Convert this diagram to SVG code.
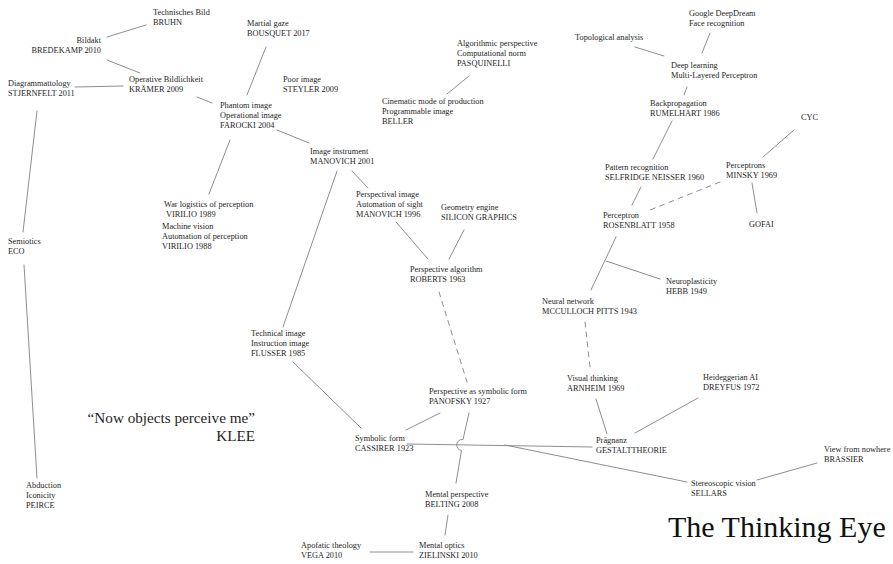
<svg xmlns="http://www.w3.org/2000/svg" width="893" height="564" viewBox="0 0 893 564">
  <style>
    .lbl { font-family: "Liberation Serif", "Times New Roman", serif; font-size: 8.3px; fill: #1e1e1e; }
    .end { text-anchor: end; }
    .quote { font-family: "Liberation Serif", "Times New Roman", serif; font-size: 15.2px; fill: #1e1e1e; text-anchor: end; }
    .title { font-family: "Liberation Serif", "Times New Roman", serif; font-size: 30px; fill: #111; }
    .edge { stroke: #8e8e8e; stroke-width: 1; fill: none; stroke-linecap: round; }
    .dash { stroke-dasharray: 5 5; }
  </style>
  <rect width="893" height="564" fill="#fff"/>

  <g id="connectors">
    <line class="edge" x1="107" y1="37" x2="146" y2="25"/>
    <line class="edge" x1="107" y1="60" x2="140" y2="73"/>
    <line class="edge" x1="75" y1="87" x2="123" y2="86"/>
    <line class="edge" x1="37" y1="111" x2="23" y2="232"/>
    <line class="edge" x1="24" y1="265" x2="37" y2="478"/>
    <line class="edge" x1="197" y1="97" x2="212" y2="103"/>
    <line class="edge" x1="266" y1="47" x2="247" y2="95"/>
    <line class="edge" x1="277" y1="130" x2="309" y2="143"/>
    <line class="edge" x1="230" y1="140" x2="209" y2="194"/>
    <line class="edge" x1="469" y1="76" x2="447" y2="94"/>
    <line class="edge" x1="352" y1="171" x2="368" y2="188"/>
    <line class="edge" x1="337" y1="171" x2="283" y2="327"/>
    <line class="edge" x1="396" y1="222" x2="428" y2="259"/>
    <line class="edge" x1="464" y1="230" x2="449" y2="259"/>
    <line class="edge dash" x1="439" y1="292" x2="467" y2="382"/>
    <line class="edge" x1="293" y1="362" x2="361" y2="428"/>
    <line class="edge" x1="440" y1="413" x2="406" y2="430"/>
    <!-- hop over the Cassirer line -->
    <path class="edge" d="M469,413 L463,439.5 A5.5,5.5 0 0 0 461.5,450.5 L456,483"/>
    <line class="edge" x1="407" y1="444" x2="592" y2="447"/>
    <line class="edge" x1="505" y1="445" x2="687" y2="482"/>
    <line class="edge" x1="448" y1="515" x2="445" y2="535"/>
    <line class="edge" x1="370" y1="552" x2="413" y2="552"/>
    <line class="edge" x1="596" y1="399" x2="607" y2="434"/>
    <line class="edge" x1="698" y1="398" x2="635" y2="433"/>
    <line class="edge" x1="817" y1="463" x2="757" y2="480"/>
    <line class="edge" x1="635" y1="47" x2="664" y2="56"/>
    <line class="edge" x1="710" y1="33" x2="702" y2="53"/>
    <line class="edge" x1="687" y1="87" x2="684" y2="95"/>
    <line class="edge" x1="672" y1="121" x2="653" y2="159"/>
    <line class="edge" x1="794" y1="130" x2="763" y2="157"/>
    <line class="edge dash" x1="720" y1="182" x2="650" y2="210"/>
    <line class="edge" x1="641" y1="187" x2="632" y2="205"/>
    <line class="edge" x1="752" y1="183" x2="757" y2="213"/>
    <line class="edge" x1="616" y1="237" x2="591" y2="290"/>
    <line class="edge" x1="606" y1="261" x2="660" y2="279"/>
    <line class="edge dash" x1="585" y1="322" x2="590" y2="367"/>
  </g>

  <g id="bruhn"><text class="lbl" x="153" y="15">Technisches Bild<tspan x="153" y="25">BRUHN</tspan></text></g>
  <g id="bredekamp"><text class="lbl end" x="101" y="43">Bildakt<tspan x="101" y="53">BREDEKAMP 2010</tspan></text></g>
  <g id="kraemer"><text class="lbl" x="129" y="82">Operative Bildlichkeit<tspan x="129" y="92">KRÄMER 2009</tspan></text></g>
  <g id="stjernfelt"><text class="lbl" x="8" y="86">Diagrammattology<tspan x="8" y="96">STJERNFELT 2011</tspan></text></g>
  <g id="bousquet"><text class="lbl" x="247" y="26">Martial gaze<tspan x="247" y="36">BOUSQUET 2017</tspan></text></g>
  <g id="steyler"><text class="lbl" x="283" y="82">Poor image<tspan x="283" y="92">STEYLER 2009</tspan></text></g>
  <g id="farocki"><text class="lbl" x="220" y="108">Phantom image<tspan x="220" y="118">Operational image</tspan><tspan x="220" y="128">FAROCKI 2004</tspan></text></g>
  <g id="virilio1989"><text class="lbl" x="164" y="207">War logistics of perception<tspan x="166" y="217">VIRILIO 1989</tspan></text></g>
  <g id="virilio1988"><text class="lbl" x="162" y="229">Machine vision<tspan x="162" y="239">Automation of perception</tspan><tspan x="162" y="249">VIRILIO 1988</tspan></text></g>
  <g id="eco"><text class="lbl" x="8" y="244">Semiotics<tspan x="8" y="254">ECO</tspan></text></g>
  <g id="peirce"><text class="lbl" x="26" y="488">Abduction<tspan x="26" y="498">Iconicity</tspan><tspan x="26" y="508">PEIRCE</tspan></text></g>
  <g id="pasquinelli"><text class="lbl" x="457" y="46">Algorithmic perspective<tspan x="457" y="56">Computational norm</tspan><tspan x="457" y="66">PASQUINELLI</tspan></text></g>
  <g id="beller"><text class="lbl" x="382" y="104">Cinematic mode of production<tspan x="382" y="114">Programmable image</tspan><tspan x="382" y="124">BELLER</tspan></text></g>
  <g id="manovich2001"><text class="lbl" x="310" y="154">Image instrument<tspan x="310" y="164">MANOVICH 2001</tspan></text></g>
  <g id="manovich1996"><text class="lbl" x="356" y="197">Perspectival image<tspan x="356" y="207">Automation of sight</tspan><tspan x="356" y="217">MANOVICH 1996</tspan></text></g>
  <g id="silicon"><text class="lbl" x="441" y="210">Geometry engine<tspan x="441" y="220">SILICON GRAPHICS</tspan></text></g>
  <g id="roberts"><text class="lbl" x="410" y="272">Perspective algorithm<tspan x="410" y="282">ROBERTS 1963</tspan></text></g>
  <g id="flusser"><text class="lbl" x="251" y="336">Technical image<tspan x="251" y="346">Instruction image</tspan><tspan x="251" y="356">FLUSSER 1985</tspan></text></g>
  <g id="panofsky"><text class="lbl" x="429" y="394">Perspective as symbolic form<tspan x="429" y="404">PANOFSKY 1927</tspan></text></g>
  <g id="cassirer"><text class="lbl" x="355" y="441">Symbolic form<tspan x="355" y="451">CASSIRER 1923</tspan></text></g>
  <g id="belting"><text class="lbl" x="425" y="497">Mental perspective<tspan x="425" y="507">BELTING 2008</tspan></text></g>
  <g id="zielinski"><text class="lbl" x="419" y="548">Mental optics<tspan x="419" y="558">ZIELINSKI 2010</tspan></text></g>
  <g id="vega"><text class="lbl" x="301" y="548">Apofatic theology<tspan x="301" y="558">VEGA 2010</tspan></text></g>
  <g id="deepdream"><text class="lbl" x="689" y="16">Google DeepDream<tspan x="689" y="26">Face recognition</tspan></text></g>
  <g id="topological"><text class="lbl" x="575" y="40">Topological analysis</text></g>
  <g id="deeplearning"><text class="lbl" x="671" y="68">Deep learning<tspan x="671" y="78">Multi-Layered Perceptron</tspan></text></g>
  <g id="rumelhart"><text class="lbl" x="650" y="106">Backpropagation<tspan x="650" y="116">RUMELHART 1986</tspan></text></g>
  <g id="cyc"><text class="lbl" x="801" y="120">CYC</text></g>
  <g id="selfridge"><text class="lbl" x="605" y="170">Pattern recognition<tspan x="605" y="180">SELFRIDGE NEISSER 1960</tspan></text></g>
  <g id="minsky"><text class="lbl" x="726" y="168">Perceptrons<tspan x="726" y="178">MINSKY 1969</tspan></text></g>
  <g id="gofai"><text class="lbl" x="749" y="227">GOFAI</text></g>
  <g id="rosenblatt"><text class="lbl" x="603" y="218">Perceptron<tspan x="603" y="228">ROSENBLATT 1958</tspan></text></g>
  <g id="hebb"><text class="lbl" x="666" y="284">Neuroplasticity<tspan x="666" y="294">HEBB 1949</tspan></text></g>
  <g id="mcculloch"><text class="lbl" x="542" y="304">Neural network<tspan x="542" y="314">MCCULLOCH PITTS 1943</tspan></text></g>
  <g id="arnheim"><text class="lbl" x="567" y="381">Visual thinking<tspan x="567" y="391">ARNHEIM 1969</tspan></text></g>
  <g id="dreyfus"><text class="lbl" x="703" y="380">Heideggerian AI<tspan x="703" y="390">DREYFUS 1972</tspan></text></g>
  <g id="gestalt"><text class="lbl" x="596" y="443">Prägnanz<tspan x="596" y="453">GESTALTTHEORIE</tspan></text></g>
  <g id="brassier"><text class="lbl" x="824" y="452">View from nowhere<tspan x="824" y="462">BRASSIER</tspan></text></g>
  <g id="sellars"><text class="lbl" x="691" y="486">Stereoscopic vision<tspan x="691" y="496">SELLARS</tspan></text></g>

  <g id="klee"><text class="quote" x="255" y="423">“Now objects perceive me”<tspan x="255" y="441">KLEE</tspan></text></g>
  <g id="title"><text class="title" x="668" y="537">The Thinking Eye</text></g>
</svg>
